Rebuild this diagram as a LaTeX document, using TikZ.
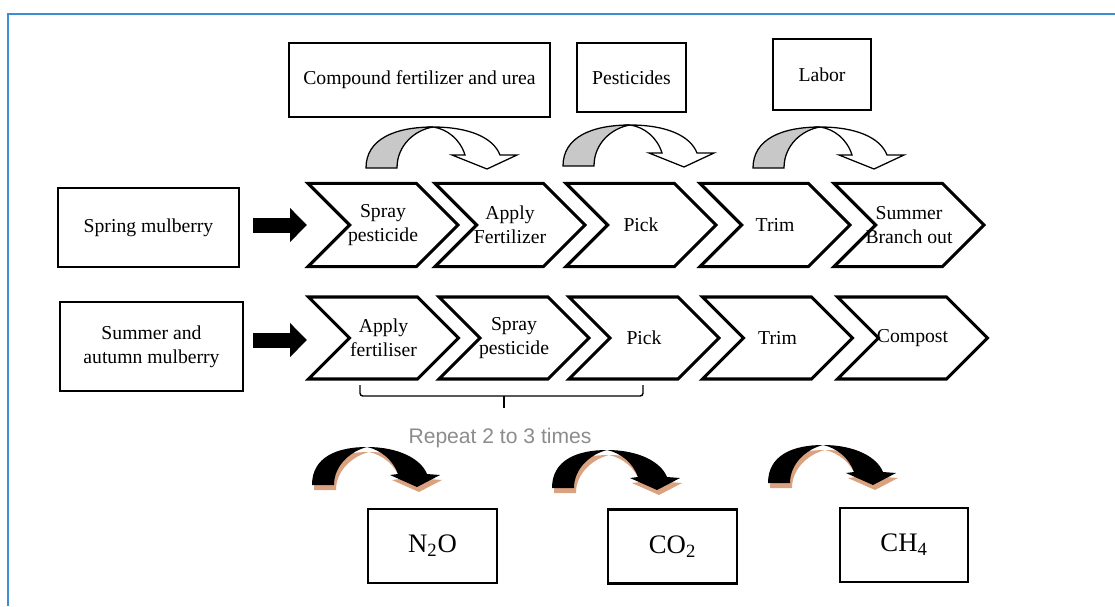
\documentclass[tikz,border=0pt]{standalone}
\usepackage{fontspec}
\setmainfont{Liberation Serif}
\newfontfamily\repfont{Liberation Sans}
\usetikzlibrary{arrows.meta, positioning, shapes.symbols}
\definecolor{frameblue}{HTML}{3C8DD4}
\definecolor{ribgray}{HTML}{C8C8C8}
\definecolor{shadetan}{HTML}{DBA27F}
\definecolor{repgray}{HTML}{8C8C8C}

\begin{document}
\begin{tikzpicture}[
        x=0.025cm, y=-0.025cm,
        font=\fontsize{14}{17}\selectfont,
        box/.style={draw, line width=1.8pt, align=center, inner sep=2pt},
        gas/.style={draw, line width=2pt, minimum width=3.225cm, minimum height=1.85cm, font=\fontsize{19}{22}\selectfont},
        chev/.style={draw, line width=2.2pt, shape=signal, signal to=east, signal from=west, signal pointer angle=90,
                     minimum width=3.75cm, minimum height=2.08cm, inner xsep=-0.75cm, inner ysep=0pt, align=center},
        blockarr/.style={line width=0.375cm, -{Triangle[length=0.425cm, width=0.825cm]}},
        ribbon/.pic={
            \filldraw[fill=ribgray, line width=0.9pt] (-67,41) .. controls (-67,12) and (-38,0) .. (0,0)
                .. controls (-18,3) and (-36,18) .. (-36,41) -- cycle;
            \filldraw[fill=white, line width=0.9pt] (0,0) .. controls (35,0) and (60,10) .. (67,28) -- (84,28) -- (54,42)
                -- (19,28) -- (32,28) .. controls (27,12) and (14,2) .. (0,0) -- cycle;
        },
        fume/.pic={
            \foreach \col/\sx/\sy in {shadetan/2/5, black/0/0} {
                \begin{scope}[shift={(\sx,\sy)}]
                    \fill[\col] (-55,38) .. controls (-55,10) and (-30,0) .. (0,0)
                        .. controls (-16,4) and (-33,18) .. (-33,38) -- cycle;
                    \fill[\col] (0,0) .. controls (32,0) and (54,12) .. (60,27) -- (73,28) -- (50,40)
                        -- (23,28) -- (31,27) .. controls (26,13) and (14,3) .. (0,0) -- cycle;
                \end{scope}
            }
        }
      ]
        \useasboundingbox (0,0) rectangle (1115,606);
        % frame
        \draw[frameblue, line width=1.2pt] (8,606) -- (8,14) -- (1115,14);

        % inputs on top
        \node[box, minimum width=6.525cm, minimum height=1.85cm] (fert) at (419.5,80) {Compound fertilizer and urea};
        \node[box, minimum width=2.725cm, minimum height=1.725cm] (pest) at (631.5,77.5) {Pesticides};
        \node[box, minimum width=2.45cm, minimum height=1.775cm] (labor) at (822,74.5) {Labor};
        \pic at (433,127) {ribbon};
        \pic at (630,125) {ribbon};
        \pic at (820,127) {ribbon};

        % spring row
        \node[box, minimum width=4.525cm, minimum height=1.975cm] (spring) at (148.5,227.5) {Spring mulberry};
        \node[chev] (sp1) at (383,225) {Spray\\pesticide};
        \node[chev] (sp2) at (510,225) {Apply\\Fertilizer};
        \node[chev] (sp3) at (641,225) {Pick};
        \node[chev] (sp4) at (775,225) {Trim};
        \node[chev] (sp5) at (909,225) {Summer\\Branch out};
        \coordinate (sp-in) at (307,225);
        \draw[blockarr, shorten <=0.325cm] (spring.east |- sp-in) -- (sp-in);

        % summer and autumn row
        \node[box, minimum width=4.575cm, minimum height=2.225cm] (summer) at (151.5,346.5) {Summer and\\autumn mulberry};
        \node[chev, minimum height=2.05cm] (su1) at (383.5,338) {Apply\\fertiliser};
        \node[chev, minimum height=2.05cm] (su2) at (514,338) {Spray\\pesticide};
        \node[chev, minimum height=2.05cm] (su3) at (644,338) {Pick};
        \node[chev, minimum height=2.05cm] (su4) at (777.5,338) {Trim};
        \node[chev, minimum height=2.05cm] (su5) at (912.5,338) {Compost};
        \coordinate (su-in) at (307,340);
        \draw[blockarr, shorten <=0.225cm] (summer.east |- su-in) -- (su-in);

        % repeat bracket
        \coordinate (rep-l) at (360,385);
        \coordinate (rep-r) at (643,385);
        \coordinate (rep-c) at (504,396);
        \coordinate (rep-t) at (504,408);
        \draw[line width=1pt, rounded corners=2pt] (rep-l) |- (rep-c) -| (rep-r);
        \draw[line width=1pt] (rep-c) -- (rep-t);
        \node[font=\repfont\fontsize{15}{17}\selectfont, text=repgray] (repeat) at (500,438) {Repeat 2 to 3 times};

        % emissions
        \pic at (367,447) {fume};
        \pic at (607,450) {fume};
        \pic at (823,445) {fume};
        \node[gas] (n2o) at (432.5,546) {N\textsubscript{2}O};
        \node[gas] (co2) at (672.5,546.5) {CO\textsubscript{2}};
        \node[gas, minimum width=3.2cm] (ch4) at (904,545) {CH\textsubscript{4}};
    \end{tikzpicture}
\end{document}
